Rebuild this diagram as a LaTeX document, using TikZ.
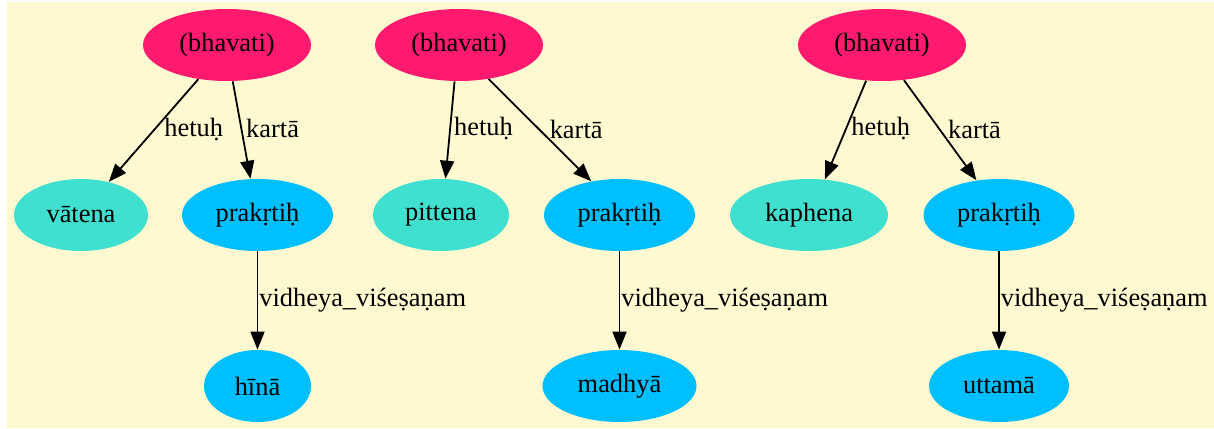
\documentclass[tikz,border=0pt]{standalone}
\usepackage{fontspec}
\setmainfont{Liberation Serif}
\usetikzlibrary{shapes.geometric,arrows.meta}
\definecolor{rootpink}{HTML}{FF1A70}
\definecolor{causeturq}{HTML}{40E0D0}
\definecolor{agentblue}{HTML}{00BFFF}
\definecolor{paper}{HTML}{FEF9D0}
\begin{document}
\begin{tikzpicture}[x=0.5pt,y=-0.5pt]
				\tikzstyle{Vertex} = [ellipse, inner sep=0pt, minimum height=36pt, font=\fontsize{13.2}{15}\selectfont]
				\tikzstyle{Root} = [Vertex, fill=rootpink, minimum width=84pt]
				\tikzstyle{Cause} = [Vertex, fill=causeturq]
				\tikzstyle{Agent} = [Vertex, fill=agentblue]
				\tikzstyle{Edge} = [-{Triangle[length=9pt,width=7pt]}, line width=0.9pt]
				\tikzstyle{Label} = [anchor=west, inner sep=0pt, font=\fontsize{13.2}{15}\selectfont]
				\fill[white] (0,0) rectangle (1214,428);
				\fill[paper] (7,2) rectangle (1214,428);
				% first group
				\node (b1) at (227,45) [Root] {(bhavati)};
				\node (vat) at (81,215) [Cause, minimum width=67pt] {vātena};
				\node (pr1) at (257.5,215) [Agent, minimum width=75.5pt] {prakṛtiḥ};
				\node (hin) at (257.5,386) [Agent, minimum width=53.5pt] {hīnā};
				% second group
				\node (b2) at (459,45) [Root] {(bhavati)};
				\node (pit) at (441,215) [Cause, minimum width=68pt] {pittena};
				\node (pr2) at (619.5,215) [Agent, minimum width=75.5pt] {prakṛtiḥ};
				\node (mad) at (619.5,386) [Agent, minimum width=77pt] {madhyā};
				% third group
				\node (b3) at (882,45) [Root] {(bhavati)};
				\node (kap) at (809,215) [Cause, minimum width=79pt] {kaphena};
				\node (pr3) at (999,215) [Agent, minimum width=75.5pt] {prakṛtiḥ};
				\node (utt) at (999,386) [Agent, minimum width=70pt] {uttamā};
				\draw [Edge] (b1.230.5) to node[Label, pos=0.49, xshift=4.5pt] {hetuḥ} (vat.50.9);
				\draw [Edge] (b1.279.5) to node[Label, pos=0.485, xshift=2pt] {kartā} (pr1.101);
				\draw [Edge] (pr1) to node[Label, pos=0.5, xshift=0.5pt] {vidheya\_viśeṣaṇam} (hin);
				\draw [Edge] (b2.263.8) to node[Label, pos=0.48, xshift=1.5pt] {hetuḥ} (pit.83.1);
				\draw [Edge] (b2.311.3) to node[Label, pos=0.495, xshift=4.75pt] {kartā} (pr2.130.7);
				\draw [Edge] (pr2) to node[Label, pos=0.5, xshift=0.5pt] {vidheya\_viśeṣaṇam} (mad);
				\draw [Edge] (b3.246.8) to node[Label, pos=0.485, xshift=2.2pt] {hetuḥ} (kap.66.4);
				\draw [Edge] (b3.302.9) to node[Label, pos=0.49, xshift=3.9pt] {kartā} (pr3.123.3);
				\draw [Edge] (pr3) to node[Label, pos=0.5, xshift=0.5pt] {vidheya\_viśeṣaṇam} (utt);
			\end{tikzpicture}
\end{document}
